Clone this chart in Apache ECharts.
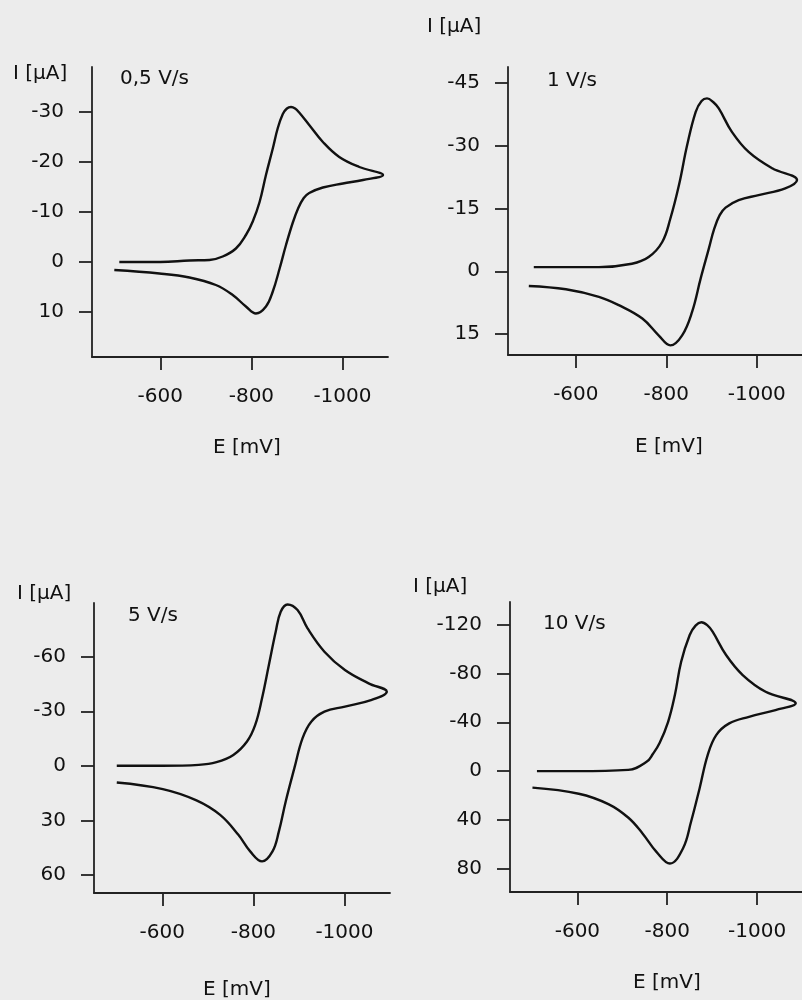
<!DOCTYPE html>
<html>
<head>
<meta charset="utf-8">
<script src="https://cdn.jsdelivr.net/npm/echarts@6/dist/echarts.min.js"></script>
<style>
  html, body { margin: 0; padding: 0; background: #ececec; }
  #chart { width: 802px; height: 1000px; }
</style>
</head>
<body>
<div id="chart"></div>
<script>
// scan rates, one panel each
const rateLabels = ['0,5 V/s', '1 V/s', '5 V/s', '10 V/s']

// tick labels
const potentialTicks = [-600, -800, -1000]
const currentTicks05 = [-30, -20, -10, 0, 10]
const currentTicks1 = [-45, -30, -15, 0, 15]
const currentTicks5 = [-60, -30, 0, 30, 60]
const currentTicks10 = [-120, -80, -40, 0, 40, 80]

// 0,5 V/s : forward scan then return scan (E in mV, I in uA)
const potential05 = [-510, -600, -664, -708, -737, -766, -788, -803, -818, -832, -847, -858, -869, -878, -887, -896, -905, -927, -957, -993, -1037, -1089,
  -1045, -1001, -957, -927, -915, -903, -891, -876, -862, -847, -832, -810, -788, -759, -722, -664, -598, -499]
const current05 = [0, 0, -0.3, -0.4, -1.1, -2.7, -5.4, -8.1, -12, -17.4, -22.7, -26.8, -29.6, -30.7, -31, -30.7, -29.9, -27.4, -24, -21, -19, -17.4,
  -16.4, -15.7, -14.9, -13.8, -12.8, -10.8, -7.9, -3.4, 1.3, 5.9, 8.9, 10.3, 8.9, 6.6, 4.6, 3.1, 2.3, 1.6]

// 1 V/s
const potential1 = [-507, -600, -651, -724, -761, -791, -809, -828, -846, -865, -878, -890, -903, -916, -945, -982, -1034, -1089,
  -1063, -1004, -960, -931, -918, -906, -894, -876, -857, -835, -809, -783, -747, -695, -651, -578, -496]
const current1 = [-1, -1, -1, -1.8, -3.4, -7, -12.6, -20.6, -30.1, -38.1, -40.7, -41.3, -40.5, -38.9, -33.3, -28.5, -24.6, -21.8,
  -19.8, -18.2, -17, -15.2, -13.4, -10.2, -5.4, 1.7, 9.7, 15.3, 17.7, 15.3, 11.3, 8.1, 6.1, 4.3, 3.5]

// 5 V/s
const potential5 = [-500, -600, -680, -719, -756, -786, -804, -819, -834, -849, -860, -875, -897, -919, -956, -1001, -1053, -1093,
  -1060, -1001, -956, -927, -908, -890, -871, -856, -842, -819, -793, -767, -727, -675, -601, -500]
const current5 = [0, 0, -0.5, -2, -6, -13.4, -22.5, -37.2, -55.5, -73.8, -84.8, -88.8, -85.7, -75.6, -62.8, -52.7, -45.4, -40.8,
  -36.3, -32.6, -29.8, -24.3, -15.2, 1.3, 19.6, 36.1, 47.1, 52.6, 47.1, 38, 27, 19, 12.8, 9.2]

// 10 V/s
const potential10 = [-510, -600, -713, -754, -768, -783, -802, -817, -831, -850, -863, -876, -889, -901, -931, -968, -1019, -1086,
  -1041, -982, -938, -909, -890, -872, -853, -835, -806, -776, -745, -713, -669, -603, -500]
const current10 = [0, 0, -1, -7.6, -14, -23, -40.4, -62.3, -89.6, -111.5, -119.2, -121.9, -119.5, -114.2, -95.1, -78.7, -65, -55.5,
  -50, -44.5, -39.1, -29.5, -13.1, 14.2, 41.5, 63.4, 75.7, 66.1, 51, 38, 27, 18.5, 13.5]

const panels = [
  { e: potential05, i: current05, ticks: currentTicks05, yMin: -39, yMax: 19, grid: { left: 92, top: 67, width: 296, height: 290 },
    yName: [13, 64], rate: [120, 69], xName: [213, 438] },
  { e: potential1, i: current1, ticks: currentTicks1, yMin: -48.8, yMax: 20, grid: { left: 508, top: 67, width: 294, height: 288 },
    yName: [427, 17], rate: [547, 71], xName: [635, 437] },
  { e: potential5, i: current5, ticks: currentTicks5, yMin: -89.6, yMax: 70, grid: { left: 94, top: 603, width: 296, height: 290 },
    yName: [17, 584], rate: [128, 606], xName: [203, 980] },
  { e: potential10, i: current10, ticks: currentTicks10, yMin: -138.5, yMax: 99, grid: { left: 510, top: 602, width: 292, height: 290 },
    yName: [413, 577], rate: [543, 614], xName: [633, 973] },
]

const ink = '#111'
const font = 'DejaVu Sans'
const axisStyle = { lineStyle: { color: '#222', width: 1.8 } }

const chart = echarts.init(document.getElementById('chart'), null, { renderer: 'canvas' })

const titles = []
panels.forEach((p, k) => {
  const txt = { fontFamily: font, fontSize: 20, fontWeight: 'normal', color: ink }
  titles.push({ text: 'I [μA]', left: p.yName[0], top: p.yName[1], padding: 0, textStyle: txt })
  titles.push({ text: rateLabels[k], left: p.rate[0], top: p.rate[1], padding: 0, textStyle: txt })
  titles.push({ text: 'E [mV]', left: p.xName[0], top: p.xName[1], padding: 0, textStyle: txt })
})

const option = {
  backgroundColor: '#ececec',
  animation: false,
  title: titles,
  grid: panels.map(p => p.grid),
  xAxis: panels.map((p, k) => ({
    type: 'value',
    gridIndex: k,
    min: -1100,
    max: -450,
    inverse: true,
    position: 'bottom',
    axisLine: { show: true, onZero: false, ...axisStyle },
    axisTick: { show: true, length: 13, customValues: potentialTicks, ...axisStyle },
    axisLabel: { customValues: potentialTicks, margin: 30, fontFamily: font, fontSize: 20, color: ink,
      formatter: v => String(v) },
    splitLine: { show: false },
  })),
  yAxis: panels.map((p, k) => ({
    type: 'value',
    gridIndex: k,
    min: p.yMin,
    max: p.yMax,
    inverse: true,
    position: 'left',
    axisLine: { show: true, onZero: false, ...axisStyle },
    axisTick: { show: true, length: 13, customValues: p.ticks, ...axisStyle },
    axisLabel: { customValues: p.ticks, margin: 28, fontFamily: font, fontSize: 20, color: ink,
      formatter: v => String(v) },
    splitLine: { show: false },
  })),
  series: panels.map((p, k) => ({
    type: 'line',
    xAxisIndex: k,
    yAxisIndex: k,
    data: p.e.map((e, j) => [e, p.i[j]]),
    showSymbol: false,
    smooth: 0.4,
    lineStyle: { color: ink, width: 2.4 },
  })),
}

chart.setOption(option)
</script>
</body>
</html>
